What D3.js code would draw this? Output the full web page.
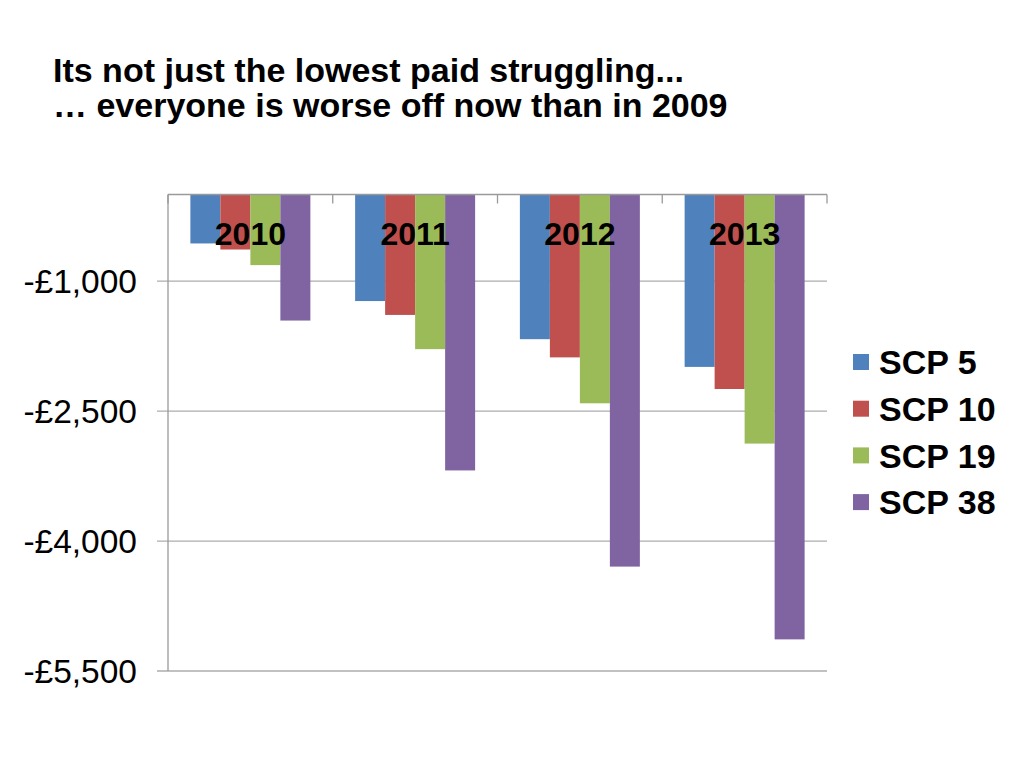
<!DOCTYPE html>
<html>
<head>
<meta charset="utf-8">
<script src="https://cdn.jsdelivr.net/npm/d3@7"></script>
<style>
  html, body { margin: 0; padding: 0; background: #ffffff; }
  svg { display: block; font-family: "Liberation Sans", Arial, sans-serif; }
</style>
</head>
<body>
<svg id="chart" width="1024" height="768"></svg>
<script>
const years = ["2010", "2011", "2012", "2013"];
const seriesNames = ["SCP 5", "SCP 10", "SCP 19", "SCP 38"];
const scp5  = [-565, -1230, -1670, -1990];
const scp10 = [-635, -1390, -1880, -2245];
const scp19 = [-815, -1785, -2410, -2875];
const scp38 = [-1455, -3185, -4295, -5135];
const seriesValues = [scp5, scp10, scp19, scp38];
const colors = ["#4F81BD", "#C0504D", "#9BBB59", "#8064A2"];
const yTicks = [-1000, -2500, -4000, -5500];
const yTickLabels = ["-£1,000", "-£2,500", "-£4,000", "-£5,500"];
const titleLines = ["Its not just the lowest paid struggling...", "… everyone is worse off now than in 2009"];

const svg = d3.select("#chart");
const L = 168, R = 827, T = 194.5, B = 671;

const y = d3.scaleLinear().domain([-5500, 0]).range([B, T]);
const x0 = d3.scaleBand().domain(years).range([L, R]).paddingInner(0).paddingOuter(0);
const x1 = d3.scaleBand().domain(seriesNames).range([0, x0.bandwidth()]).paddingInner(0).paddingOuter(0.746);

// title
svg.append("g").selectAll("text").data(titleLines).join("text")
  .attr("x", 53).attr("y", (d, i) => 82 + i * 35)
  .attr("font-size", 34).attr("font-weight", "bold").attr("fill", "#000")
  .text(d => d);

// gridlines
svg.append("g").selectAll("line").data(yTicks).join("line")
  .attr("x1", 157).attr("x2", R)
  .attr("y1", d => y(d)).attr("y2", d => y(d))
  .attr("stroke", "#ADADAD").attr("stroke-width", 1.3);

// y axis labels
svg.append("g").selectAll("text").data(yTicks).join("text")
  .attr("x", 137).attr("y", d => y(d)).attr("dy", "0.36em")
  .attr("text-anchor", "end").attr("font-size", 33.5).attr("fill", "#000")
  .text((d, i) => yTickLabels[i]);

// bars
const groups = svg.append("g").selectAll("g").data(years).join("g")
  .attr("transform", d => `translate(${x0(d)},0)`);
groups.selectAll("rect").data((yr, i) => seriesNames.map((s, k) => ({ s, k, v: seriesValues[k][i] })))
  .join("rect")
  .attr("x", d => x1(d.s)).attr("width", x1.bandwidth())
  .attr("y", y(0)).attr("height", d => y(d.v) - y(0))
  .attr("fill", d => colors[d.k]);

// axes lines
const axisColor = "#9A9A9A";
svg.append("line").attr("x1", L).attr("x2", L).attr("y1", T).attr("y2", B)
  .attr("stroke", axisColor).attr("stroke-width", 1.3);
svg.append("line").attr("x1", L).attr("x2", R).attr("y1", T).attr("y2", T)
  .attr("stroke", axisColor).attr("stroke-width", 1.3);
const catTicks = years.map(d => x0(d)).concat([R]);
svg.append("g").selectAll("line").data(catTicks).join("line")
  .attr("x1", d => d).attr("x2", d => d).attr("y1", T).attr("y2", T + 9)
  .attr("stroke", axisColor).attr("stroke-width", 1.3);

// category labels
svg.append("g").selectAll("text").data(years).join("text")
  .attr("x", d => x0(d) + x0.bandwidth() / 2).attr("y", 245)
  .attr("text-anchor", "middle").attr("font-size", 32).attr("font-weight", "bold").attr("fill", "#000")
  .text(d => d);

// legend
const lg = svg.append("g").selectAll("g").data(seriesNames).join("g")
  .attr("transform", (d, i) => `translate(853, ${362 + i * 46.7})`);
lg.append("rect").attr("x", 0).attr("y", -8).attr("width", 16).attr("height", 16)
  .attr("fill", (d, i) => colors[i]);
lg.append("text").attr("x", 26).attr("y", 0).attr("dy", "0.36em")
  .attr("font-size", 34).attr("font-weight", "bold").attr("fill", "#000")
  .text(d => d);
</script>
</body>
</html>
